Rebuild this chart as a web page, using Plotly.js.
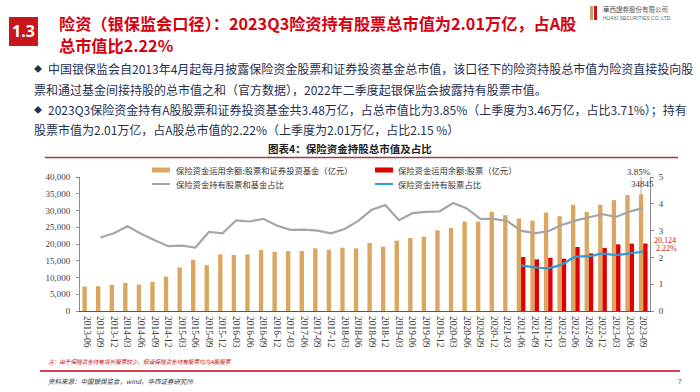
<!DOCTYPE html>
<html><head><meta charset="utf-8">
<script src="https://cdn.plot.ly/plotly-3.0.1.min.js"></script>
<style>html,body{margin:0;padding:0;background:#fff;}#chart{width:700px;height:392px;}</style>
</head><body><div id="chart"></div>
<script>
const quarters = ["2013-06","2013-09","2013-12","2014-03","2014-06","2014-09","2014-12",
"2015-03","2015-06","2015-09","2015-12","2016-03","2016-06","2016-09","2016-12",
"2017-03","2017-06","2017-09","2017-12","2018-03","2018-06","2018-09","2018-12",
"2019-03","2019-06","2019-09","2019-12","2020-03","2020-06","2020-09","2020-12",
"2021-03","2021-06","2021-09","2021-12","2022-03","2022-06","2022-09","2022-12",
"2023-03","2023-06","2023-09"];
// 保险资金运用余额:股票和证券投资基金（亿元）
const fundStockValue = [7300,7400,7800,8400,7900,8700,10300,
13000,15300,13700,16900,16700,16900,18200,17700,
17900,17900,18700,18300,18900,18700,20300,19200,
21000,21800,22200,24100,24800,26700,26700,29600,
28600,27600,27000,29400,28300,31700,29600,31700,
33100,34600,34845];
// 保险资金运用余额:股票（亿元）
const stockValue = [null,null,null,null,null,null,null,
null,null,null,null,null,null,null,null,
null,null,null,null,null,null,null,null,
null,null,null,null,null,null,null,null,
null,16100,15400,15900,15600,19100,17200,18800,
19900,20100,20124];
// 保险资金持有股票和基金占比（%）
const fundStockRatio = [null,2.74,2.90,3.16,2.88,2.64,2.42,
2.44,2.37,2.95,2.90,3.38,3.34,3.44,3.19,
3.03,3.04,3.00,2.90,3.06,3.36,3.78,3.95,
3.39,3.65,3.70,3.72,4.03,3.83,3.44,3.44,
3.35,3.00,2.90,2.98,3.21,3.37,3.50,3.61,
3.51,3.71,3.85];
// 保险资金持有股票占比（%）
const stockRatio = [null,null,null,null,null,null,null,
null,null,null,null,null,null,null,null,
null,null,null,null,null,null,null,null,
null,null,null,null,null,null,null,null,
null,1.70,1.63,1.60,1.74,2.02,2.04,2.14,
2.09,2.15,2.22];

const legendNames = ["保险资金运用余额:股票和证券投资基金（亿元）","保险资金运用余额:股票（亿元）",
  "保险资金持有股票和基金占比","保险资金持有股票占比"];
const leftTicks = [0,5000,10000,15000,20000,25000,30000,35000,40000];
const rightTicks = [0,1,2,3,4,5];

const title1 = "险资（银保监会口径）：2023Q3险资持有股票总市值为2.01万亿，占A股";
const title2 = "总市值比2.22%";
const bullet1a = "中国银保监会自2013年4月起每月披露保险资金股票和证券投资基金总市值，该口径下的险资持股总市值为险资直接投向股";
const bullet1b = "票和通过基金间接持股的总市值之和（官方数据），2022年二季度起银保监会披露持有股票市值。";
const bullet2a = "2023Q3保险资金持有A股股票和证券投资基金共3.48万亿，占总市值比为3.85%（上季度为3.46万亿，占比3.71%）；持有";
const bullet2b = "股票市值为2.01万亿，占A股总市值的2.22%（上季度为2.01万亿，占比2.15 %）";
const chartTitle = "图表4：保险资金持股总市值及占比";
const note = "注：由于保险资金持有境外股票较少，假设保险资金持有股票均为A股股票";
const source = "资料来源：中国银保监会，wind，华西证券研究所";

const GOLD = "#DBA660", RED = "#E00000", GRAY = "#A6A6A6", BLUE = "#2E9BD5";
const CJK = "Noto Sans CJK SC, sans-serif";
const SERIF = "Liberation Serif, Times New Roman, serif";

// plot area geometry
const ML = 80, MR = 50, MT = 177, MB = 81, FW = 700, FH = 392;
const PW = FW - ML - MR, PH = FH - MT - MB;
const px = x => (x - ML) / PW;
const py = y => (FH - MB - y) / PH;

function txt(x, y, text, size, color, opts) {
  return Object.assign({xref:"paper", yref:"paper", x:px(x), y:py(y), text:text, showarrow:false,
    xanchor:"left", yanchor:"middle", font:{family:CJK, size:size, color:color}}, opts || {});
}
function rect(x0, y0, x1, y1, color, extra) {
  return Object.assign({type:"rect", xref:"paper", yref:"paper", x0:px(x0), x1:px(x1), y0:py(y0), y1:py(y1),
    fillcolor:color, line:{width:0}}, extra || {});
}
function line(x0, y0, x1, y1, color, w) {
  return {type:"line", xref:"paper", yref:"paper", x0:px(x0), x1:px(x1), y0:py(y0), y1:py(y1),
    line:{color:color, width:w}};
}

const traces = [
  {type:"bar", name:legendNames[0], x:quarters, y:fundStockValue, marker:{color:GOLD}, yaxis:"y", hoverinfo:"x+y"},
  {type:"bar", name:legendNames[1], x:quarters, y:stockValue, marker:{color:RED}, yaxis:"y", hoverinfo:"x+y"},
  {type:"scatter", mode:"lines", name:legendNames[2], x:quarters, y:fundStockRatio, yaxis:"y2",
    line:{color:GRAY, width:2.2}},
  {type:"scatter", mode:"lines", name:legendNames[3], x:quarters, y:stockRatio, yaxis:"y2",
    line:{color:BLUE, width:2.2, shape:"spline", smoothing:0.8}}
];

const navy = "#1F3050";
const TRED = "#D7000F";
const annotations = [
  txt(23.5, 31.5, "1.3", 16, "#fff", {xanchor:"center", font:{family:"Noto Sans, sans-serif", size:16, color:"#fff", weight:"bold"}}),
  txt(57, 23, title1, 16.2, TRED, {font:{family:CJK, size:16.2, color:TRED, weight:"bold"}}),
  txt(57, 45, title2, 16.2, TRED, {font:{family:CJK, size:16.2, color:TRED, weight:"bold"}}),
  txt(601, 9, "華西證券股份有限公司", 6.5, "#555"),
  txt(601, 18, "HUAXI SECURITIES CO.,LTD.", 5, "#666", {font:{family:"Liberation Sans, sans-serif", size:5, color:"#666"}}),
  txt(32, 69, "◆", 8, navy),
  txt(46, 69, bullet1a, 12, navy),
  txt(32, 89, bullet1b, 12, navy),
  txt(32, 109, "◆", 8, navy),
  txt(46, 109, bullet2a, 12, navy),
  txt(32, 129, bullet2b, 12, navy),
  txt(350, 148, chartTitle, 10.5, "#222", {xanchor:"center", font:{family:CJK, size:10.5, color:"#222", weight:"bold"}}),
  txt(174, 170, legendNames[0], 8.3, "#333"),
  txt(174, 184, legendNames[2], 8.3, "#333"),
  txt(396, 170, legendNames[1], 8.3, "#333"),
  txt(396, 184, legendNames[3], 8.3, "#333"),
  txt(639, 172, "3.85%", 9, "#333", {xanchor:"center", font:{family:SERIF, size:9, color:"#333"}}),
  txt(642, 184, "34845", 9, "#333", {xanchor:"center", font:{family:SERIF, size:9, color:"#333"}}),
  txt(652, 240, "20,124", 8, "#C0282D", {font:{family:SERIF, size:8, color:"#C0282D"}}),
  txt(654, 248.3, "2.22%", 8, "#C0282D", {font:{family:SERIF, size:8, color:"#C0282D"}}),
  txt(46, 362, note, 5.6, "#C00000", {font:{family:CJK, size:5.6, color:"#C00000", style:"italic"}}),
  txt(46, 381, source, 6.5, "#333", {font:{family:CJK, size:6.5, color:"#333", style:"italic"}}),
  txt(680, 381, "7", 6.5, "#555", {xanchor:"center"})
];

const shapes = [
  rect(9, 17, 38, 46, "#C8161D"),
  rect(590, 6, 593, 20, "#C9A063"),
  rect(594, 6, 597, 20, "#C8161D"),
  line(45, 157.5, 678, 157.5, "#A63A42", 1.6),
  rect(152, 167.5, 170, 172.5, GOLD),
  line(152, 184, 170, 184, GRAY, 2),
  rect(375, 167.5, 393, 172.5, RED),
  line(375, 184, 393, 184, BLUE, 2),
  line(641, 177, 641, 195, "#999", 0.8),
  line(40, 371, 680, 371, "#D0021B", 1.4)
];

const layout = {
  width:FW, height:FH, margin:{l:ML, r:MR, t:MT, b:MB, pad:0},
  paper_bgcolor:"#fff", plot_bgcolor:"#fff", showlegend:false,
  barmode:"group", bargap:0.36, bargroupgap:0,
  xaxis:{type:"category", tickangle:90, range:[-0.5, quarters.length-0.5],
    tickfont:{family:SERIF, size:9.5, color:"#404040"}, showline:true, linecolor:"#595959", linewidth:1,
    ticks:"", showgrid:false, zeroline:false, ticklabelstandoff:2, automargin:false},
  yaxis:{range:[0,40000], tickvals:leftTicks, tickformat:",d", showline:true, linecolor:"#8C8C8C", linewidth:1,
    ticks:"outside", ticklen:3, tickcolor:"#8C8C8C", showgrid:false, zeroline:false,
    tickfont:{family:SERIF, size:9, color:"#404040"}, ticklabelstandoff:4, automargin:false},
  yaxis2:{range:[0,5], tickvals:rightTicks, ticksuffix:"%", overlaying:"y", side:"right", showline:true,
    linecolor:"#8C8C8C", linewidth:1, ticks:"outside", ticklen:3, tickcolor:"#8C8C8C", showgrid:false,
    zeroline:false, tickfont:{family:SERIF, size:9, color:"#404040"}, ticklabelstandoff:3, automargin:false},
  annotations:annotations, shapes:shapes
};
Plotly.newPlot("chart", traces, layout, {staticPlot:true, displayModeBar:false});
</script></body></html>
